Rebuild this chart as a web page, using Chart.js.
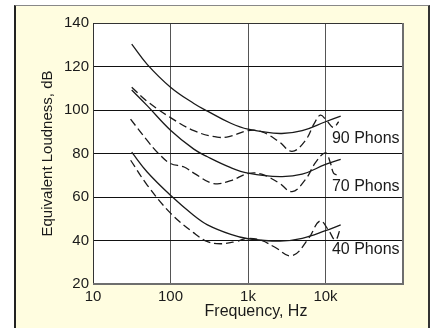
<!DOCTYPE html>
<html>
<head>
<meta charset="utf-8">
<script src="https://cdn.jsdelivr.net/npm/chart.js@4/dist/chart.umd.min.js"></script>
<style>
  html, body { margin: 0; padding: 0; background: #fff; overflow: hidden; }
  #panel {
    position: absolute; left: 14px; top: 5px; width: 416px; height: 340px;
    box-sizing: border-box; background: #fffde0;
    border-left: 2px solid #222; border-right: 2px solid #333; border-top: 1px solid #888;
  }
  #chart { position: absolute; left: 0; top: 0; }
</style>
</head>
<body>
<div id="panel"></div>
<canvas id="chart" width="431" height="328"></canvas>
<script>
// --- data ---
const xTickValues = [10, 100, 1000, 10000, 100000];
const xTickLabels = ['10', '100', '1k', '10k', ''];

// solid curves (equal loudness contours)
const freqSolid = [31.6, 50, 100, 200, 300, 600, 1000, 2600, 5000, 10000, 15700];
const loud90 = [130.3, 121, 110.5, 103, 99.5, 93.9, 91.2, 89.2, 90.5, 94.6, 97.2];
const loud70 = [109.2, 102, 90.7, 82, 78.5, 73.5, 71, 69.4, 70.5, 75, 77.3];
const loud40 = [80.6, 71.5, 60.8, 51.5, 47.2, 42.8, 40.8, 39.7, 41, 44.5, 47.2];

// dashed curves
const freqDash90 = [31.6, 50, 100, 200, 400, 600, 1000, 1500, 2500, 3700, 5500, 7200, 8600, 10200, 12700, 14800];
const dash90 = [110.5, 104, 96.5, 90.5, 87.5, 88, 90.5, 90, 85.5, 81, 86, 94, 97.6, 95.4, 92, 94.6];
const freqDash70 = [30.5, 50, 70, 100, 150, 200, 360, 600, 1000, 1500, 2500, 3700, 5500, 7500, 10000, 11500, 12700, 14400];
const dash70 = [95.8, 86, 80, 75.4, 73.8, 71, 66.2, 67.5, 70.8, 70.5, 66.5, 62.5, 68, 76, 80.3, 76, 71, 70];
const freqDash40 = [30.6, 50, 100, 200, 300, 440, 700, 1000, 1500, 2200, 3700, 6000, 8500, 11000, 13400, 15600];
const dash40 = [76.9, 65.5, 52.6, 43.5, 39.5, 38.5, 39.5, 41, 40, 37, 33, 40.8, 49, 44.6, 40.2, 45.7];

// curve labels (anchored in data units)
const phonLabels = ['90 Phons', '70 Phons', '40 Phons'];
const phonLabelFreq = 12100;
const phonLabelDb = [86.9, 64.9, 35.7];

const FONT = "'Liberation Sans', Arial, sans-serif";
const INK = '#1a1a1a';

function pts(xs, ys) {
  return xs.map((x, i) => ({ x: x, y: ys[i] }));
}
function curve(xs, ys, dashed) {
  return {
    data: pts(xs, ys),
    borderColor: INK,
    borderWidth: 1.3,
    borderDash: dashed ? [8, 4] : [],
    pointRadius: 0,
    fill: false,
    tension: 0.4
  };
}

const plotDecor = {
  id: 'plotDecor',
  beforeDraw(chart) {
    const { ctx, chartArea: a } = chart;
    ctx.save();
    ctx.fillStyle = '#fff';
    ctx.fillRect(a.left, a.top, a.right - a.left, a.bottom - a.top);
    ctx.restore();
  },
  afterDraw(chart) {
    const { ctx, chartArea: a, scales } = chart;
    ctx.save();
    // frame
    ctx.strokeStyle = '#333';
    ctx.lineWidth = 1;
    ctx.beginPath();
    ctx.moveTo(a.left + 0.5, a.bottom);
    ctx.lineTo(a.left + 0.5, a.top + 0.5);
    ctx.lineTo(a.right, a.top + 0.5);
    ctx.stroke();
    ctx.strokeStyle = '#6e6e6e';
    ctx.lineWidth = 2;
    ctx.beginPath();
    ctx.moveTo(a.right, a.top);
    ctx.lineTo(a.right, a.bottom);
    ctx.lineTo(a.left, a.bottom);
    ctx.stroke();

    // curve labels
    ctx.fillStyle = INK;
    ctx.font = '16px ' + FONT;
    ctx.textAlign = 'left';
    ctx.textBaseline = 'middle';
    const lx = scales.x.getPixelForValue(phonLabelFreq);
    phonLabels.forEach((t, i) => {
      ctx.fillText(t, lx, scales.y.getPixelForValue(phonLabelDb[i]));
    });

    // axis titles
    ctx.textAlign = 'center';
    ctx.fillText('Frequency, Hz', 256, 312);
    ctx.font = '15px ' + FONT;
    ctx.translate(48, (a.top + a.bottom) / 2);
    ctx.rotate(-Math.PI / 2);
    ctx.fillText('Equivalent Loudness, dB', 0, 0);
    ctx.restore();
  }
};

new Chart(document.getElementById('chart'), {
  type: 'line',
  data: {
    datasets: [
      curve(freqSolid, loud90, false),
      curve(freqDash90, dash90, true),
      curve(freqSolid, loud70, false),
      curve(freqDash70, dash70, true),
      curve(freqSolid, loud40, false),
      curve(freqDash40, dash40, true)
    ]
  },
  options: {
    responsive: false,
    animation: false,
    devicePixelRatio: 1,
    layout: { padding: { left: 0, top: 23, right: 28, bottom: 0 } },
    plugins: { legend: { display: false }, tooltip: { enabled: false } },
    scales: {
      x: {
        type: 'logarithmic',
        min: 10,
        max: 100000,
        afterBuildTicks: s => { s.ticks = xTickValues.map(v => ({ value: v })); },
        afterFit: s => { s.height = 44; },
        border: { display: false },
        grid: { color: '#555', lineWidth: 1, drawTicks: false },
        ticks: {
          autoSkip: false, maxRotation: 0, padding: 4,
          color: INK, font: { family: FONT, size: 15 },
          callback: v => xTickLabels[xTickValues.indexOf(v)] ?? ''
        }
      },
      y: {
        min: 20,
        max: 140,
        afterFit: s => { s.width = 93; },
        border: { display: false },
        grid: { color: '#111', lineWidth: 1, drawTicks: false },
        ticks: {
          stepSize: 20, padding: 4,
          color: INK, font: { family: FONT, size: 15 }
        }
      }
    }
  },
  plugins: [plotDecor]
});
</script>
</body>
</html>
